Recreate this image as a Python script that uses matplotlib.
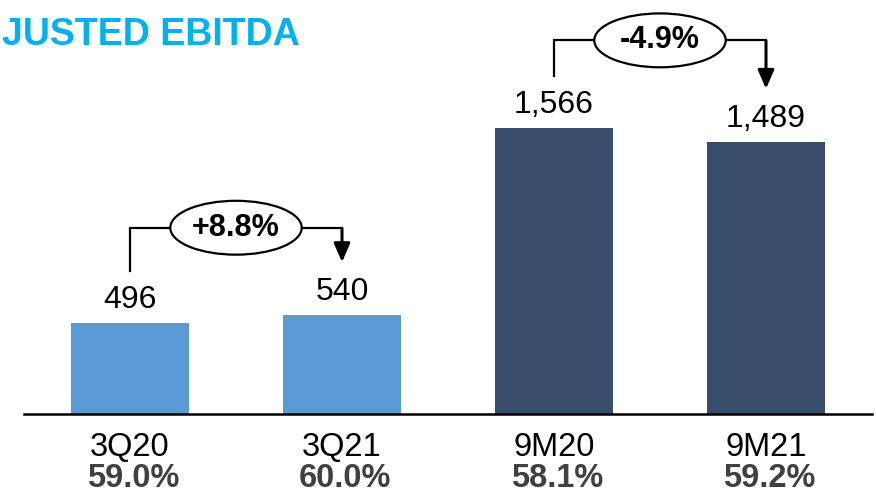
# Adjusted EBITDA bar chart with growth brackets between periods

import numpy as np
import matplotlib.pyplot as plt
from matplotlib.patches import Ellipse

categories = ['3Q20', '3Q21', '9M20', '9M21']
ebitda = [496, 540, 1566, 1489]
margins = ['59.0%', '60.0%', '58.1%', '59.2%']
growth_pairs = [(0, 1), (2, 3)]
growth_labels = ['+8.8%', '-4.9%']

light_blue = '#5b9bd5'
dark_blue = '#384c6c'
bar_colors = [light_blue, light_blue, dark_blue, dark_blue]


def draw_growth(ax, i, j, label):
    # bracket from bar i to bar j with the change written in an ellipse
    top = max(ebitda[i], ebitda[j]) + 480
    start = ebitda[i] + 285
    tip = ebitda[j] + 292
    mid = (i + j) / 2.0
    ew, eh = 0.62, 295

    ax.plot([i, i, mid - ew / 2], [start, top, top], color='black', lw=1.6,
            solid_joinstyle='miter', clip_on=False)
    ax.plot([mid + ew / 2, j], [top, top], color='black', lw=1.6, clip_on=False)
    ax.annotate('', xy=(j, tip), xytext=(j, top - 4),
                arrowprops=dict(arrowstyle='-|>,head_length=0.8,head_width=0.35',
                                mutation_scale=14, lw=2.2, color='black',
                                shrinkA=0, shrinkB=0))
    ax.add_patch(Ellipse((mid, top), ew, eh, facecolor='white',
                         edgecolor='black', lw=1.6, clip_on=False, zorder=3))
    ax.text(mid, top, label, ha='center', va='center', fontsize=22,
            fontweight='bold', family='Liberation Sans', zorder=4)


fig = plt.figure(figsize=(8.76, 4.96), dpi=100)
ax = fig.add_axes([24 / 876, 82 / 496, 848 / 876, 414 / 496])

x = np.arange(len(categories))
ax.bar(x, ebitda, width=0.557, color=bar_colors, zorder=2)

ax.set_xlim(-0.5, 3.5)
ax.set_ylim(0, 2267)
for side in ['top', 'left', 'right']:
    ax.spines[side].set_visible(False)
ax.spines['bottom'].set_linewidth(1.8)
ax.spines['bottom'].set_color('black')
ax.set_xticks([])
ax.set_yticks([])

# value labels above the bars
for xi, v in zip(x, ebitda):
    ax.annotate(f'{v:,}', xy=(xi, v), xytext=(0, 15), textcoords='offset pixels',
                ha='center', va='baseline', fontsize=23, family='Liberation Sans')

# period and margin below the axis
for xi, cat, m in zip(x, categories, margins):
    ax.annotate(cat, xy=(xi, 0), xycoords=('data', 'axes fraction'),
                xytext=(0, -42), textcoords='offset pixels', ha='center',
                va='baseline', fontsize=23.5, family='Liberation Sans')
    ax.annotate(m, xy=(xi, 0), xycoords=('data', 'axes fraction'),
                xytext=(3, -73), textcoords='offset pixels', ha='center',
                va='baseline', fontsize=23.5, fontweight='bold', color='#404040',
                family='Liberation Sans')

for (i, j), lab in zip(growth_pairs, growth_labels):
    draw_growth(ax, i, j, lab)

fig.text(2 / 876, (496 - 45) / 496, 'JUSTED EBITDA', ha='left', va='baseline',
         fontsize=27, fontweight='bold', color='#00b0f0',
         family=['Liberation Sans Narrow', 'Liberation Sans'])

fig.savefig('out.png', dpi=100)
